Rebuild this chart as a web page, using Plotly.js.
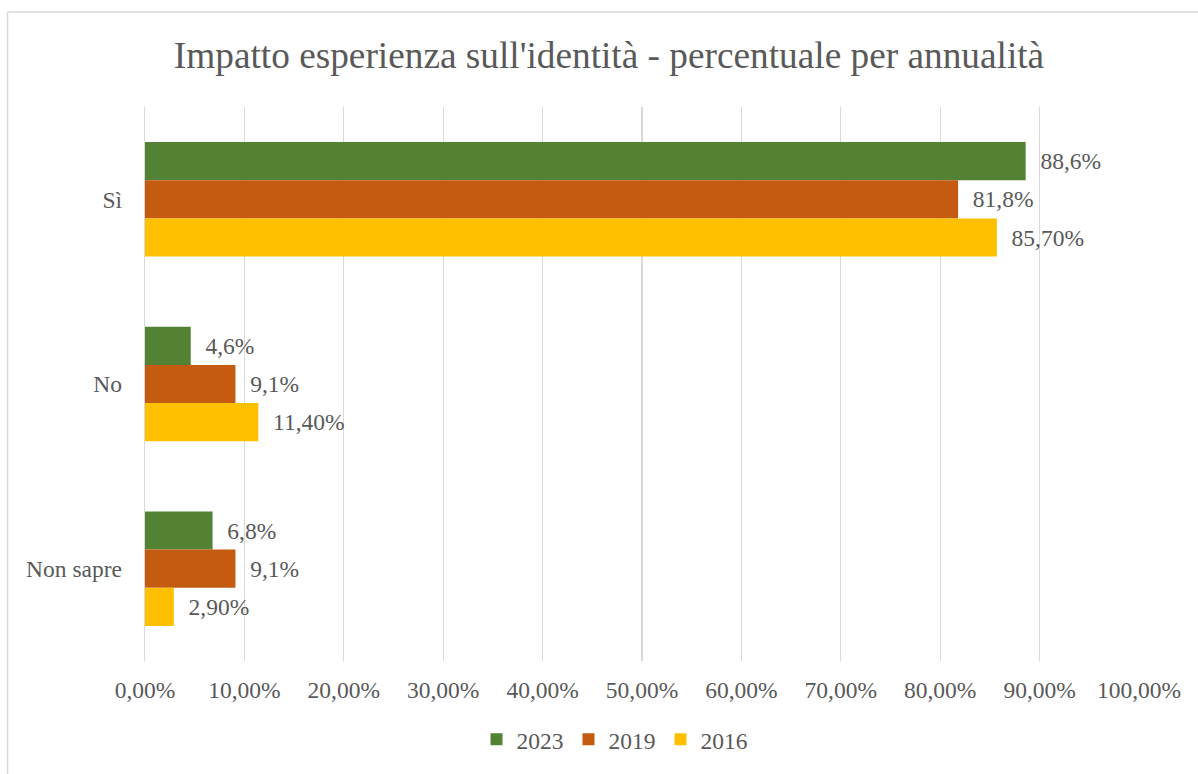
<!DOCTYPE html>
<html>
<head>
<meta charset="utf-8">
<script src="https://cdn.plot.ly/plotly-3.0.1.min.js"></script>
<style>html,body{margin:0;padding:0;background:#fff;}#chart{width:1198px;height:774px;}</style>
</head>
<body>
<div id="chart"></div>
<script>
const categories = ["Sì", "No", "Non sapre"];
const seriesNames = ["2023", "2019", "2016"];
const values2023 = [88.6, 4.6, 6.8];
const values2019 = [81.8, 9.1, 9.1];
const values2016 = [85.7, 11.4, 2.9];
const labelDecimals = [1, 1, 2];
const colors = ["#548235", "#C55A11", "#FFC000"];
const tickValues = [0, 10, 20, 30, 40, 50, 60, 70, 80, 90, 100];
const tickLabels = tickValues.map(v => v.toFixed(2).replace(".", ",") + "%");

const allValues = [values2023, values2019, values2016];
const FONT = "Liberation Serif";
const TXT = "#595959";
const FS = 23.5;

const traces = allValues.map((vals, i) => ({
  type: "bar",
  orientation: "h",
  name: seriesNames[i],
  y: categories,
  x: vals,
  marker: {color: colors[i]},
  text: vals.map(v => "\u00a0\u00a0" + v.toFixed(labelDecimals[i]).replace(".", ",") + "%"),
  textposition: "outside",
  cliponaxis: false,
  constraintext: "none",
  textfont: {family: FONT, size: FS, color: TXT},
  hoverinfo: "skip"
}));

const W = 1198, H = 774;
const L = 145, R = 59, T = 107, B = 110;
const pw = W - L - R, ph = H - T - B;
const px = x => (x - L) / pw;
const py = y => (H - B - y) / ph;

const layout = {
  width: W, height: H,
  margin: {l: L, r: R, t: T, b: B, pad: 0},
  paper_bgcolor: "#ffffff",
  plot_bgcolor: "#ffffff",
  separators: ",.",
  font: {family: FONT, size: FS, color: TXT},
  title: {
    text: "Impatto esperienza sull'identità - percentuale per annualità",
    font: {family: FONT, size: 37.3, color: TXT},
    x: 609 / W, xref: "container", xanchor: "center",
    y: 1 - 55 / H, yref: "container", yanchor: "middle"
  },
  barmode: "group",
  bargap: 0.38,
  bargroupgap: 0,
  xaxis: {
    range: [0, 100],
    tickmode: "array",
    tickvals: tickValues,
    ticktext: tickLabels,
    showgrid: true,
    gridcolor: "#d9d9d9",
    gridwidth: 1.3,
    zeroline: false,
    showline: false,
    ticks: "outside",
    ticklen: 8,
    tickcolor: "rgba(0,0,0,0)",
    tickfont: {family: FONT, size: FS, color: TXT},
    fixedrange: true
  },
  yaxis: {
    autorange: "reversed",
    showgrid: false,
    zeroline: false,
    showline: true,
    linecolor: "#d9d9d9",
    linewidth: 1.3,
    ticks: "outside",
    ticklen: 17,
    tickcolor: "rgba(0,0,0,0)",
    tickfont: {family: FONT, size: FS, color: TXT},
    fixedrange: true
  },
  legend: {
    orientation: "h",
    x: px(615), xanchor: "center",
    y: py(743), yanchor: "middle",
    font: {family: FONT, size: FS, color: TXT},
    itemwidth: 30,
    traceorder: "normal"
  },
  showlegend: true,
  shapes: [
    {type: "line", xref: "paper", yref: "paper", x0: px(7.5), x1: px(7.5), y0: py(11.5), y1: py(800), line: {color: "#d9d9d9", width: 1.5}},
    {type: "line", xref: "paper", yref: "paper", x0: px(7.5), x1: px(1200), y0: py(11.5), y1: py(11.5), line: {color: "#d9d9d9", width: 1.5}}
  ]
};

Plotly.newPlot("chart", traces, layout, {displayModeBar: false, staticPlot: true});
</script>
</body>
</html>
